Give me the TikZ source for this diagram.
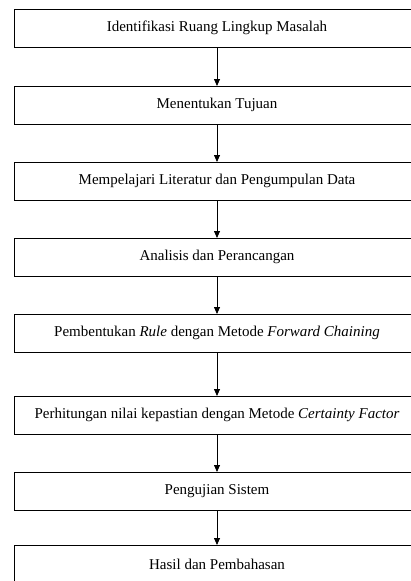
\documentclass[tikz,border=0pt]{standalone}
\usepackage{fontspec}
\setmainfont{Liberation Serif}
\usetikzlibrary{positioning,arrows.meta}
\begin{document}
\begin{tikzpicture}[x=1pt,y=1pt,
        every node/.style={rectangle,draw,line width=1pt,outer sep=0pt,minimum width=406pt,
            minimum height=38pt,inner sep=2pt,font=\fontsize{15}{18}\selectfont},
        flow/.style={-{Triangle[width=6pt,length=7pt]},line width=0.8pt}]
    \useasboundingbox (0,0) rectangle (411,-581);
    \node (ident) at (217,-28) {Identifikasi Ruang Lingkup Masalah};
    \node[below=39pt of ident] (tujuan) {Menentukan Tujuan};
    \node[below=38pt of tujuan] (literatur) {Mempelajari Literatur dan Pengumpulan Data};
    \node[below=38pt of literatur] (analisis) {Analisis dan Perancangan};
    \node[below=38pt of analisis] (rule) {Pembentukan \textit{Rule} dengan Metode \textit{Forward Chaining}};
    \node[below=44pt of rule] (cf) {Perhitungan nilai kepastian dengan Metode \textit{Certainty Factor}};
    \node[below=38pt of cf] (uji) {Pengujian Sistem};
    \node[below=35pt of uji] (hasil) {Hasil dan Pembahasan};
    \foreach \a/\b in {ident/tujuan,tujuan/literatur,literatur/analisis,analisis/rule,
        rule/cf,cf/uji,uji/hasil}
        \draw[flow] (\a) -- (\b);
\end{tikzpicture}
\end{document}
